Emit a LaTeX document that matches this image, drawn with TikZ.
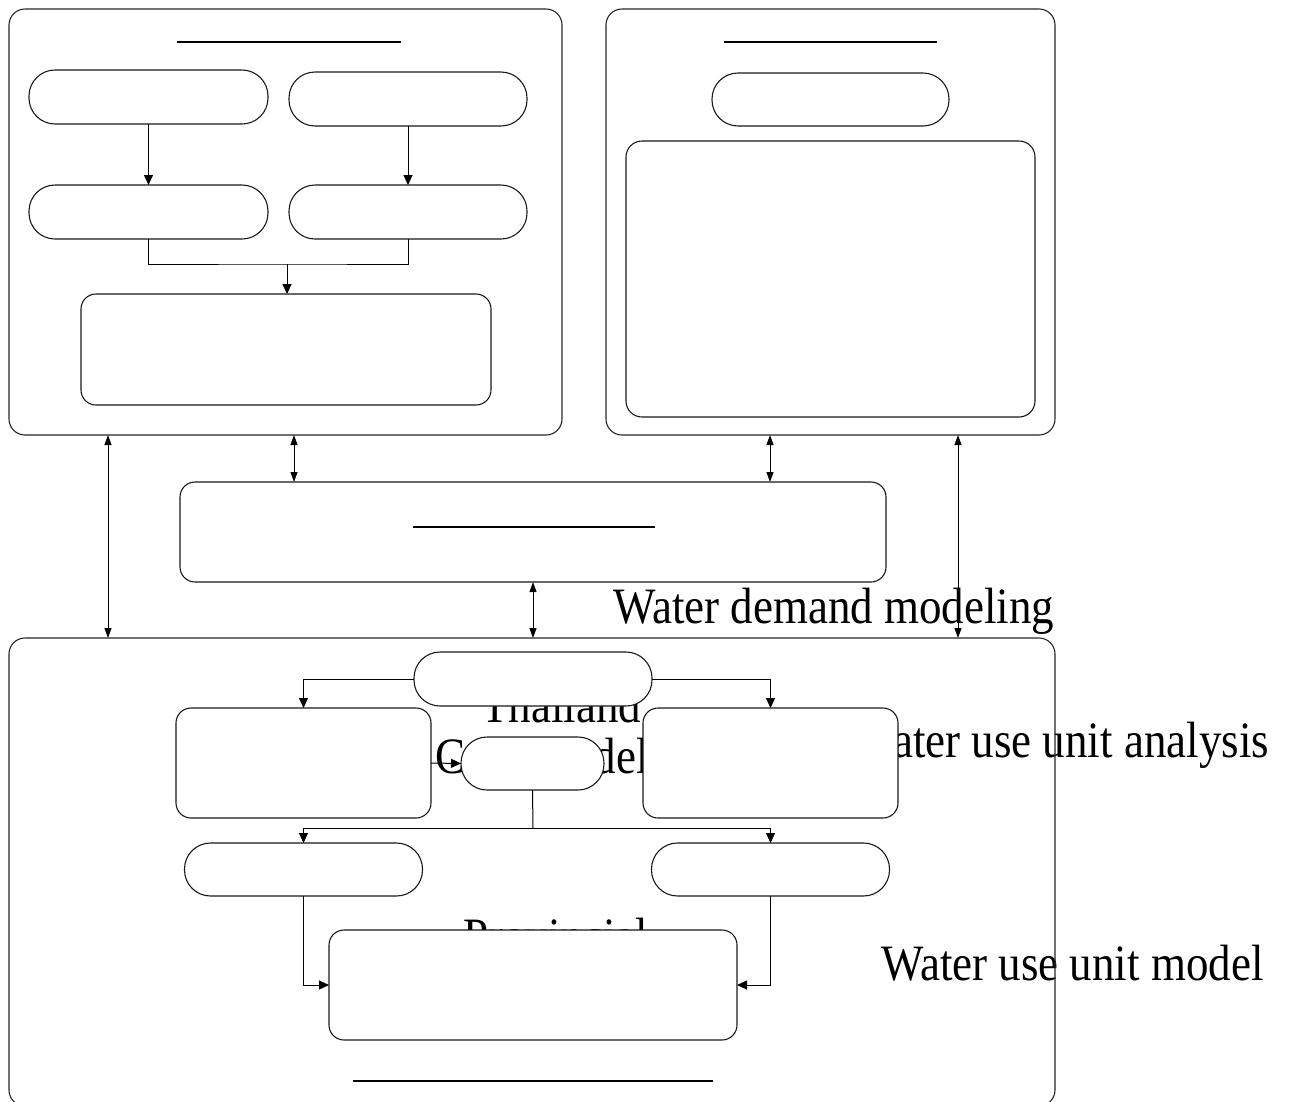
\documentclass[tikz,border=0pt]{standalone}
\usepackage{fontspec}
\setmainfont{Liberation Serif}[FakeStretch=0.882]
\usetikzlibrary{arrows.meta}
\begin{document}
\begin{tikzpicture}[x=1pt,y=-1pt,
  frame/.style={draw=black!85, line width=1.1pt, rounded corners=16pt, inner sep=0pt, outer sep=0pt},
  box/.style={draw=black!90, line width=1.1pt, rounded corners=15pt, inner sep=0pt, outer sep=0pt, fill=white},
  pill/.style={draw=black!90, line width=1.1pt, rounded corners=26pt, inner sep=0pt, outer sep=0pt, fill=white},
  arr/.style={-{Triangle[length=10pt,width=9pt]}, line width=1pt},
  dbl/.style={{Triangle[length=10pt,width=7pt]}-{Triangle[length=10pt,width=7pt]}, line width=1pt},
  lbl/.style={font=\fontsize{51}{60}\selectfont, inner sep=0pt, anchor=base west},
  uline/.style={line width=1.4pt}
]
\useasboundingbox (0,0) rectangle (1299,1101);
\clip (0,0) rectangle (1299,1101);

% texts (lowest layer)
\node[lbl] (t1) at (613,623) {Water demand modeling};
\node[lbl] (t2) at (481,722) {Thailand};
\node[lbl] (t3) at (435,773) {CGE model};
\node[lbl] (t4) at (854,757) {Water use unit analysis};
\node[lbl] (t5) at (881,980) {Water use unit model};
\node[lbl] (t6) at (463,953) {Provincial};

% outer frames
\node[frame, minimum width=553pt, minimum height=426pt] (TLo) at (285.5,222) {};
\node[frame, minimum width=449pt, minimum height=426pt] (TRo) at (830.5,222) {};
\node[frame, minimum width=1046pt, minimum height=468pt] (BO) at (532,872) {};
\node[box, minimum width=706pt, minimum height=100pt] (mid) at (533,532) {};

% underlines
\draw[uline] (177,42) -- (401,42);
\draw[uline] (724,42) -- (937,42);
\draw[uline] (413,527) -- (655,527);
\draw[uline] (353,1081) -- (713,1081);

% top-left group
\node[pill, minimum width=239pt, minimum height=54pt] (pTL) at (148.5,97) {};
\node[pill, minimum width=238pt, minimum height=54pt] (pTR) at (408,99) {};
\node[pill, minimum width=239pt, minimum height=54pt] (pML) at (148.5,212) {};
\node[pill, minimum width=238pt, minimum height=54pt] (pMR) at (408,212) {};
\node[box, minimum width=410pt, minimum height=111pt] (bTL) at (286,349.5) {};
\coordinate (merge) at (287,264);

% top-right group
\node[pill, minimum width=237pt, minimum height=53pt] (pR) at (830.5,99.5) {};
\node[box, rounded corners=16pt, minimum width=409pt, minimum height=276pt] (bTR) at (830.5,279) {};

% bottom group
\node[pill, minimum width=238pt, minimum height=54pt] (pTop) at (533,679) {};
\node[box, minimum width=255pt, minimum height=110pt] (bL) at (303.5,763) {};
\node[box, minimum width=255pt, minimum height=110pt] (bR) at (770.5,763) {};
\node[pill, minimum width=143pt, minimum height=53pt] (pS) at (532.5,763.5) {};
\node[pill, minimum width=238pt, minimum height=53pt] (pBL) at (303.5,869.5) {};
\node[pill, minimum width=238pt, minimum height=53pt] (pBR) at (770.5,869.5) {};
\node[box, minimum width=408pt, minimum height=110pt] (bB) at (533,985) {};
\coordinate (split) at (533,828);

% connector x positions
\coordinate (xa) at (108,0);
\coordinate (xb) at (294,0);
\coordinate (xc) at (770,0);
\coordinate (xd) at (958,0);

% arrows top-left
\draw[arr] (pTL.south) -- (pML.north);
\draw[arr] (pTR.south) -- (pMR.north);
\draw[line width=1pt] (pML.south) |- (merge) -| (pMR.south);
\draw[arr] (merge) -- (bTL.north -| merge);

% double arrows
\draw[dbl] (TLo.south -| xa) -- (BO.north -| xa);
\draw[dbl] (TLo.south -| xb) -- (mid.north -| xb);
\draw[dbl] (TRo.south -| xc) -- (mid.north -| xc);
\draw[dbl] (TRo.south -| xd) -- (BO.north -| xd);
\draw[dbl] (mid.south) -- (BO.north -| mid.south);

% bottom arrows
\draw[arr] (pTop.west) -| (bL.north);
\draw[arr] (pTop.east) -| (bR.north);
\draw[arr] (bL.east) -- (pS.west);
\draw[line width=1pt] (pS.south) -- (split);
\draw[arr] (split) -| (pBL.north);
\draw[arr] (split) -| (pBR.north);
\draw[arr] (pBL.south) |- (bB.west);
\draw[arr] (pBR.south) |- (bB.east);
\end{tikzpicture}
\end{document}
